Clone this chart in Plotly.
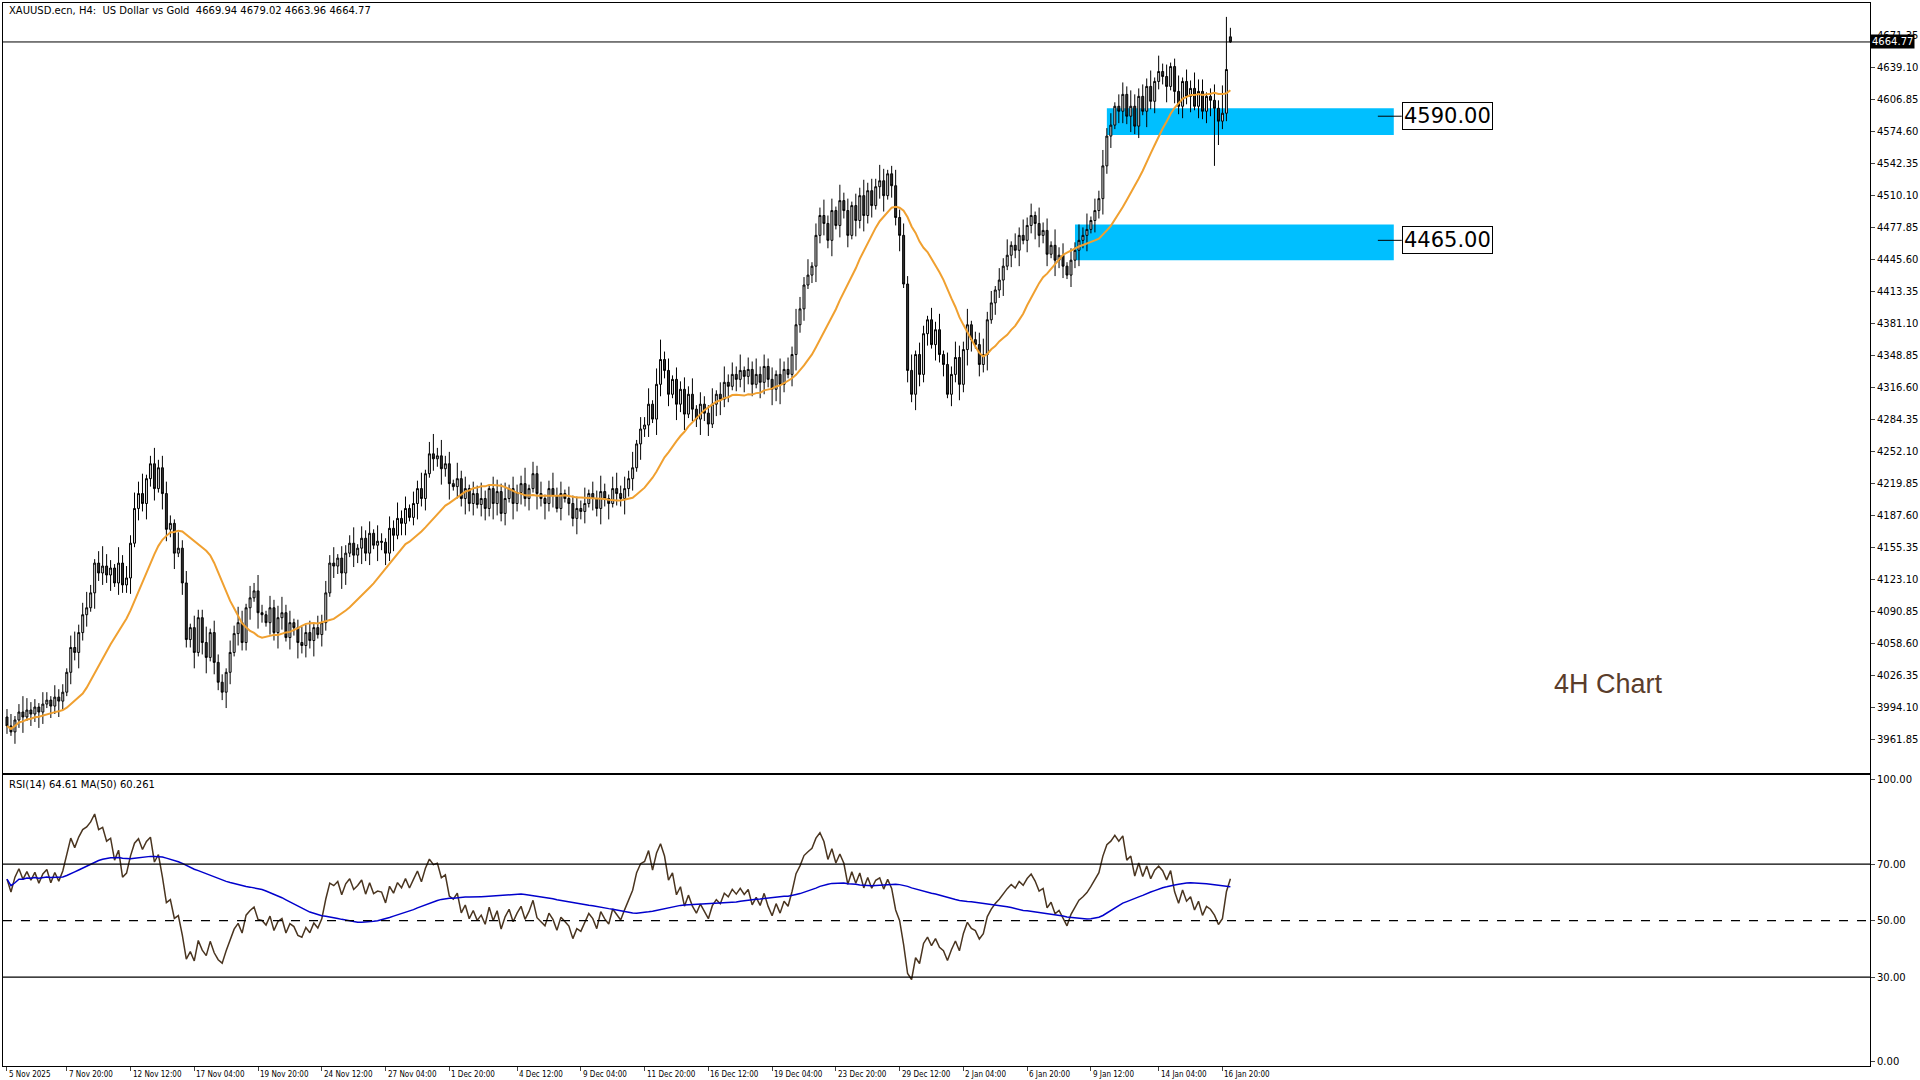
import plotly.graph_objects as go
import numpy as np

CLOSE = [3976,3970,3982,3990,3985,3992,3988,3995,3990,3998,4002,3996,4005,4001,
 4010,4030,4055,4050,4070,4088,
 4095,4110,4140,4130,4137,4128,4135,4120,4140,4118,4125,
 4160,4195,4210,4200,4225,4240,4215,4236,
 4210,4174,4180,4150,4155,4120,4063,
 4075,4050,4085,4060,4045,4070,4040,4020,4010,
 4030,4050,4069,4080,4060,4095,4105,4112,
 4090,4088,4080,4095,4070,4085,4090,4065,4080,4075,4060,4057,
 4070,4062,4075,4068,4080,4110,4140,4137,
 4145,4130,4150,4160,4148,4155,4165,4150,4170,4158,4162,4161,
 4150,4175,4168,4185,4180,4195,4186,4200,4215,4205,4230,4250,4245,4248,
 4235,4240,4220,4217,4225,4205,4215,4200,4210,4199,
 4205,4195,4215,4200,4212,4190,4205,4215,4200,4211,
 4220,4205,4215,4230,4210,4205,4200,4215,4208,4195,4210,4205,4200,4185,4195,4192,
 4200,4210,4205,4195,4212,4205,4200,4215,4210,4205,
 4215,4225,4236,4260,4275,4279,4300,4285,4320,4345,4334,
 4310,4325,4300,4315,4290,4310,
 4295,4285,4300,4291,4280,4300,4310,4305,4322,4318,4330,4325,4334,
 4328,4335,4320,4330,4322,4338,4325,4315,4330,4320,4335,4330,
 4350,4380,4396,4420,4430,4439,4470,4490,4482,
 4465,4495,4480,4505,4495,
 4470,4500,4485,4510,4490,4515,4500,4519,4525,4510,4532,4520,4488,
 4470,4421,4334,4310,4350,4330,4371,
 4385,4360,4375,4350,4340,4310,4330,4347,4320,4355,4380,4365,
 4360,4340,4350,4385,4402,4415,4425,4439,
 4450,4460,4455,4470,4465,4480,4490,4482,
 4470,4475,4451,4460,4445,4450,4439,4430,4445,4455,4465,4470,4476,
 4485,4495,4507,4540,4570,4581,4600,4595,4612,
 4590,4600,4580,4610,4595,4620,4605,4625,4635,4630,
 4620,4640,4615,4600,4625,4610,4618,4600,4615,4595,4610,4606,
 4598,4585,4593,4637,4664.77]
FIRST_OPEN = 3985
UP = ("2312432213 2132213423 4213532142 3243512423 3214231322 4132213243 1324213234 2312423132 "
      "3241322413 2314213242 3132413524 2314231324 2133241322 4132312423 1323241324 2134232413 "
      "2414523132 3241322413 4232413242 3231423243 2413242314 2313242324 3124232413 2132413243 "
      "2412342313 2413242314 2314231324 2413242313 3243232414 2312413243 3124272")
DN = ("2132413243 1324213242 3142324132 2413242314 3241322413 4132243132 2314213243 1324232413 "
      "2132431324 2314232413 3124231324 2413242313 3243231423 2314242313 1324231324 2413242314 "
      "2314323142 4132423134 2413242314 3243521342 3124232413 2314242313 4132413243 2314231324 "
      "2431324132 4132413243 2314231324 2413242313 3242314232 2413232413 2341f22")
TICK_LABELS = ["5 Nov 2025","7 Nov 20:00","12 Nov 12:00","17 Nov 04:00","19 Nov 20:00","24 Nov 12:00",
 "27 Nov 04:00","1 Dec 20:00","4 Dec 12:00","9 Dec 04:00","11 Dec 20:00","16 Dec 12:00","19 Dec 04:00",
 "23 Dec 20:00","29 Dec 12:00","2 Jan 04:00","6 Jan 20:00","9 Jan 12:00","14 Jan 04:00","16 Jan 20:00"]
TICK_IDX = [0,15,31,47,63,79,95,111,128,144,160,176,192,208,224,240,256,272,289,305]
LEVELS = [4590.00, 4465.00]
ZONES = [(276, 4571, 4598), (268, 4445, 4481)]
PRICE_TICKS = [4671.35-32.25*k for k in range(23)]

def dig(s, n):
    d = [int(ch) if ch.isdigit() else 6 for ch in s.replace(" ", "")]
    d = (d + [2]*n)[:n]
    return np.array(d)*4.0

n = len(CLOSE)
c = np.array(CLOSE, float)
o = np.concatenate([[FIRST_OPEN], c[:-1]])
o[-1] = 4669.94
hi = np.maximum(o, c) + dig(UP, n)
lo = np.minimum(o, c) - dig(DN, n)
hi[-1] = 4679.02; lo[-1] = 4663.96
lo[303] = 4540; hi[306] = 4690
x = np.arange(n)

ma = np.array([c[max(0, i-19):i+1].mean() for i in range(n)])
d = np.diff(c, prepend=c[0])
g = np.where(d > 0, d, 0); l = np.where(d < 0, -d, 0)
ag = np.zeros(n); al = np.zeros(n)
ag[0] = g[:14].mean(); al[0] = l[:14].mean()
for i in range(1, n):
    ag[i] = (ag[i-1]*13 + g[i])/14; al[i] = (al[i-1]*13 + l[i])/14
rsi = 100 - 100/(1 + ag/np.maximum(al, 1e-9))
rsima = np.array([rsi[max(0, i-49):i+1].mean() for i in range(n)])

fig = go.Figure()
for (i0, y0, y1) in ZONES:
    fig.add_shape(type="rect", x0=i0, x1=348, y0=y0, y1=y1, fillcolor="#00bfff", line_width=0, layer="below", xref="x", yref="y")
for lv, yy in zip(LEVELS, [4590, 4465]):
    fig.add_shape(type="line", x0=344, x1=350, y0=yy, y1=yy, line=dict(color="black", width=1), xref="x", yref="y")
    fig.add_annotation(x=350, y=yy, text=f"{lv:.2f}", xanchor="left", showarrow=False, font=dict(size=21, color="black", family="DejaVu Sans"),
                       bordercolor="black", borderwidth=1, borderpad=1, bgcolor="white", xref="x", yref="y")
fig.add_trace(go.Candlestick(x=x, open=o, high=hi, low=lo, close=c,
    increasing=dict(line=dict(color="black", width=1), fillcolor="#dddddd"),
    decreasing=dict(line=dict(color="black", width=1), fillcolor="#333333"),
    whiskerwidth=0, xaxis="x", yaxis="y"))
fig.add_trace(go.Scatter(x=x, y=ma, mode="lines", line=dict(color="#f0a030", width=2), xaxis="x", yaxis="y"))
fig.add_trace(go.Scatter(x=x, y=rsi, mode="lines", line=dict(color="#4a3520", width=1.5), xaxis="x2", yaxis="y2"))
fig.add_trace(go.Scatter(x=x, y=rsima, mode="lines", line=dict(color="#0000cc", width=1.5), xaxis="x2", yaxis="y2"))
fig.add_shape(type="line", x0=0, x1=1, xref="paper", y0=4664.77, y1=4664.77, yref="y", line=dict(color="black", width=1))
for lv, dash in [(70, "solid"), (50, "dash"), (30, "solid")]:
    fig.add_shape(type="line", x0=0, x1=1, xref="paper", y0=lv, y1=lv, yref="y2", line=dict(color="black", width=1.2, dash=dash))
fig.add_annotation(x=1, y=4664.77, xref="paper", yref="y", text="4664.77", xanchor="left", showarrow=False,
                   bgcolor="black", font=dict(color="white", size=10, family="DejaVu Sans"), borderpad=1)
fig.add_annotation(x=0.002, y=1, xref="paper", yref="paper", text="XAUUSD.ecn, H4:  US Dollar vs Gold  4669.94 4679.02 4663.96 4664.77",
                   xanchor="left", yanchor="top", showarrow=False, font=dict(size=10, color="black", family="DejaVu Sans"))
fig.add_annotation(x=0.002, y=0.272, xref="paper", yref="paper", text="RSI(14) 64.61 MA(50) 60.261",
                   xanchor="left", yanchor="top", showarrow=False, font=dict(size=10, color="black", family="DejaVu Sans"))
fig.add_annotation(x=0.89, y=4018, xref="paper", yref="y", text="4H Chart", showarrow=False,
                   font=dict(size=27, color="#5a3d2b", family="Liberation Sans"))
for ti, tl in zip(TICK_IDX, TICK_LABELS):
    fig.add_annotation(x=ti, y=0, xref="x2", yref="paper", yshift=-2, text=tl, xanchor="left", yanchor="top",
                       showarrow=False, font=dict(size=8, color="black", family="DejaVu Sans Condensed, DejaVu Sans"))
xr = [-1, 467.5]
ax_common = dict(showgrid=False, zeroline=False, mirror=True, linecolor="black", linewidth=1, showline=True)
fig.update_layout(
    width=1920, height=1080, paper_bgcolor="white", plot_bgcolor="white", showlegend=False,
    margin=dict(l=2, r=44, t=2, b=14),
    xaxis=dict(domain=[0, 1], range=xr, anchor="y", showticklabels=False, ticks="", rangeslider=dict(visible=False), **ax_common),
    xaxis2=dict(domain=[0, 1], range=xr, anchor="y2", showticklabels=False, ticks="outside", tickvals=TICK_IDX, ticklen=4, **ax_common),
    yaxis=dict(domain=[0.276, 1], range=[3929, 4704], side="right", tickvals=PRICE_TICKS, ticktext=[f"{v:.2f}" for v in PRICE_TICKS],
               ticks="outside", ticklen=4, tickfont=dict(size=10, family="DejaVu Sans", color="black"), **ax_common),
    yaxis2=dict(domain=[0, 0.2735], range=[-1.5, 101.5], side="right", tickvals=[0, 30, 50, 70, 100],
                ticktext=["0.00", "30.00", "50.00", "70.00", "100.00"], ticks="outside", ticklen=4,
                tickfont=dict(size=10, family="DejaVu Sans", color="black"), **ax_common),
)
fig.write_html("out.html", config={"displayModeBar": False},
               post_script="document.body.style.margin='0';document.body.style.overflow='hidden';")
